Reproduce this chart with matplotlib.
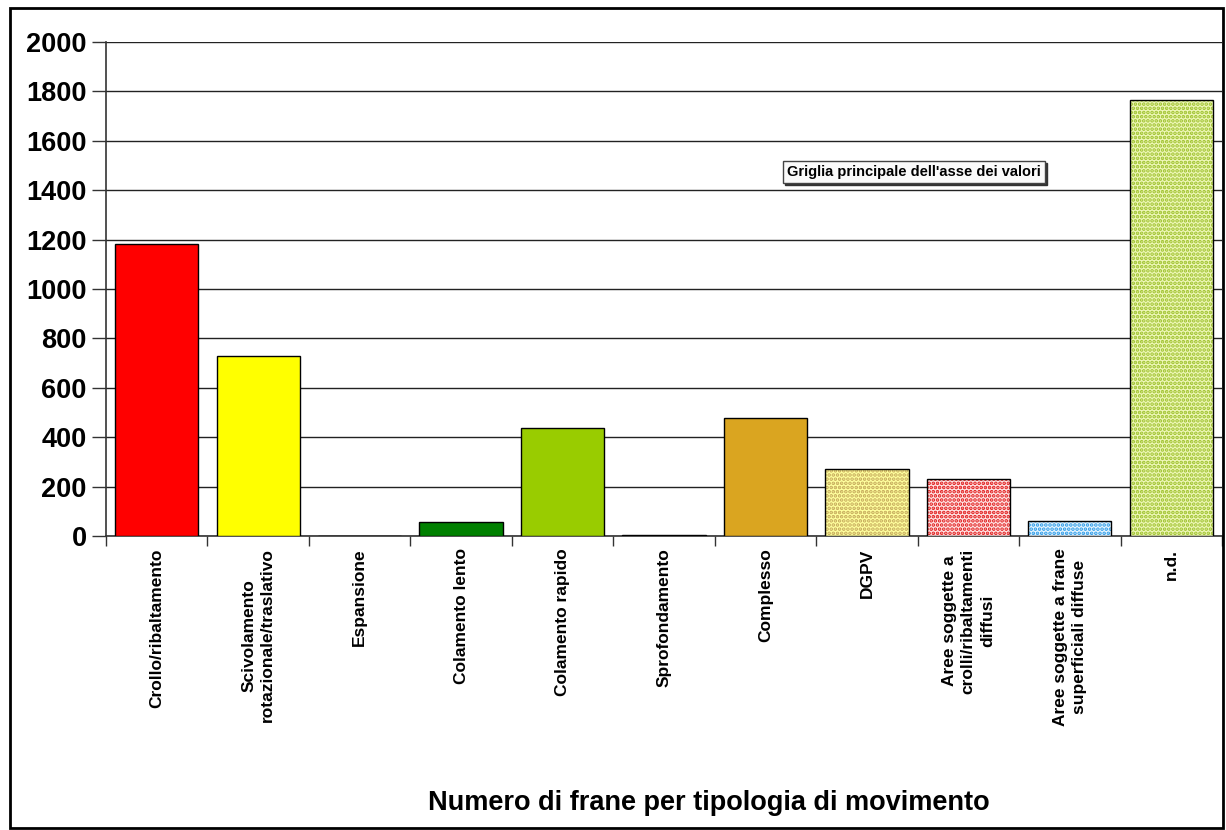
import matplotlib
matplotlib.use("Agg")
import matplotlib.pyplot as plt
from matplotlib.patches import Rectangle
import numpy as np

categories = [
    "Crollo/ribaltamento",
    "Scivolamento\nrotazionale/traslativo",
    "Espansione",
    "Colamento lento",
    "Colamento rapido",
    "Sprofondamento",
    "Complesso",
    "DGPV",
    "Aree soggette a\ncrolli/ribaltamenti\ndiffusi",
    "Aree soggette a frane\nsuperficiali diffuse",
    "n.d.",
]
values = [1182, 727, 0, 58, 438, 6, 479, 272, 231, 62, 1766]
face_colors = ["#FF0000", "#FFFF00", "#FFFFFF", "#008000", "#99CC00", "#404040",
               "#DAA520", "#FFFF9E", "#FFE4E4", "#E8F6FF", "#EEF7B8"]
dot_colors = [None, None, None, None, None, None, None,
              "#C4A85A", "#E01818", "#2A9AE8", "#9CC02A"]
yticks = [0, 200, 400, 600, 800, 1000, 1200, 1400, 1600, 1800, 2000]
title = "Numero di frane per tipologia di movimento"
note = "Griglia principale dell'asse dei valori"

plt.rcParams["font.family"] = ["Liberation Sans", "DejaVu Sans"]
plt.rcParams["hatch.linewidth"] = 1.8

fig = plt.figure(figsize=(12.26, 8.30), dpi=100)
ax = fig.add_axes([106 / 1226, 1 - 536 / 830, 1116 / 1226, 494 / 830])

x = np.arange(len(categories))
W = 0.82
for xi, v, fc, dc in zip(x, values, face_colors, dot_colors):
    if dc is None:
        ax.bar(xi, v, width=W, color=fc, edgecolor="black", linewidth=1.0, zorder=3)
    else:
        ax.bar(xi, v, width=W, color=fc, edgecolor=dc, hatch="....", linewidth=0, zorder=3)
        ax.bar(xi, v, width=W, fill=False, edgecolor="black", linewidth=1.0, zorder=4)

ax.set_xlim(-0.5, len(categories) - 0.5)
ax.set_ylim(0, 2000)
ax.set_yticks(yticks)
ax.set_yticklabels([str(t) for t in yticks], fontsize=19.5, fontweight="bold")
ax.yaxis.grid(True, color="#222222", linewidth=1.0, zorder=0)
ax.set_axisbelow(True)

ax.set_xticks(x)
ax.set_xticklabels(categories, rotation=90, fontsize=12.5, fontweight="bold",
                   ha="center", va="top", multialignment="center", linespacing=1.35)
ax.set_xticks(np.arange(len(categories) + 1) - 0.5, minor=True)
ax.tick_params(axis="x", which="major", length=0, pad=9)
ax.tick_params(axis="x", which="minor", length=7, width=1.0, color="#333333", direction="out")
ax.tick_params(axis="y", length=10, width=1.0, color="#333333", direction="out", pad=4)

for s in ["top", "right"]:
    ax.spines[s].set_visible(False)
for s in ["left", "bottom"]:
    ax.spines[s].set_color("#333333")
    ax.spines[s].set_linewidth(1.2)

fig.text(709 / 1226, 1 - 803 / 830, title, ha="center", va="center",
         fontsize=19.5, fontweight="bold")

# shadow box behind the note
fig.text(916 / 1226, 1 - 174 / 830, note, ha="center", va="center", fontsize=10.5,
         fontweight="bold", color="none",
         bbox=dict(boxstyle="square,pad=0.25", facecolor="#333333", edgecolor="#333333",
                   linewidth=1.0))
fig.text(914 / 1226, 1 - 172 / 830, note, ha="center", va="center", fontsize=10.5,
         fontweight="bold",
         bbox=dict(boxstyle="square,pad=0.25", facecolor="#FAFAFA", edgecolor="#444444",
                   linewidth=1.0))

fig.patches.append(Rectangle((10 / 1226, 2 / 830), 1213 / 1226, 820 / 830,
                             transform=fig.transFigure, fill=False,
                             edgecolor="black", linewidth=2))

fig.savefig("out.png", dpi=100)
